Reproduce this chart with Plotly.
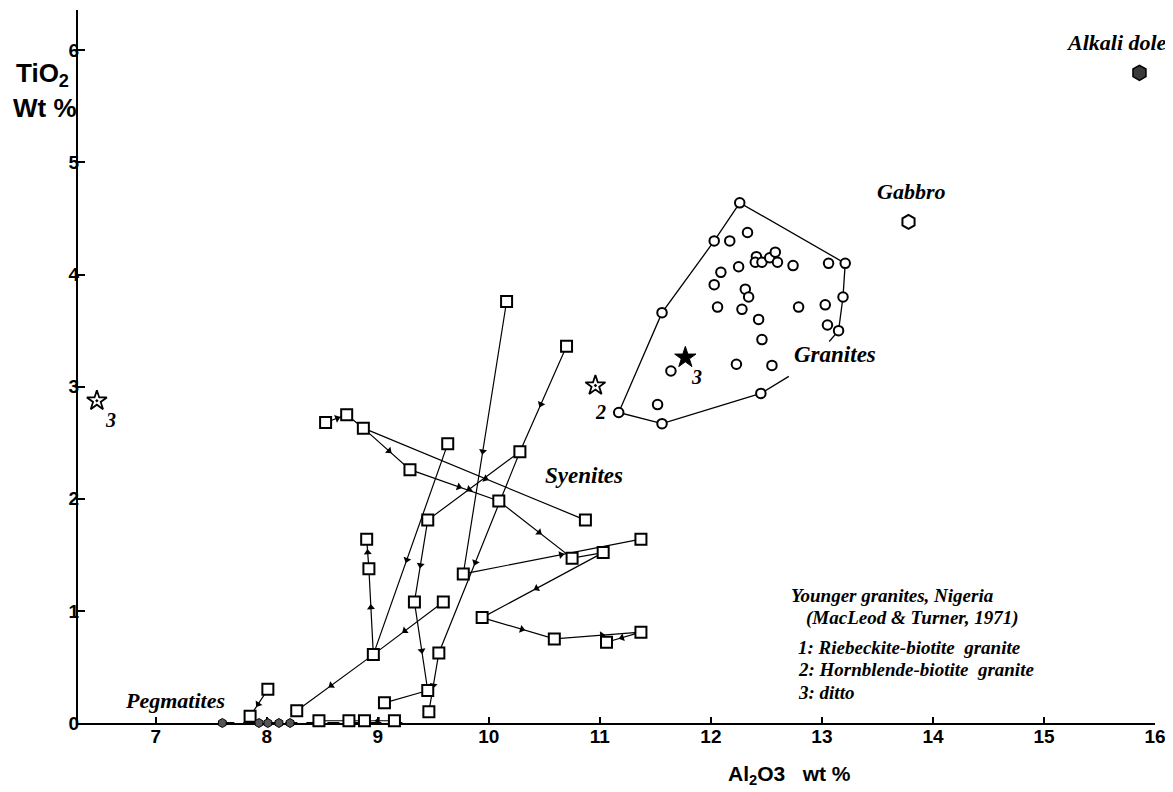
import math
import plotly.graph_objects as go

# ---------------- data (Al2O3 wt %, TiO2 wt %) ----------------
# Syenite samples (open squares)
syenite_al2o3 = [10.16, 10.70, 8.53, 8.72, 8.87, 9.63, 10.28, 9.29, 10.09, 10.87,
                 9.45, 8.90, 11.37, 11.03, 10.75, 8.92, 9.77, 9.33, 9.59, 9.94,
                 10.59, 11.37, 11.06, 8.96, 9.55, 8.01, 7.85, 8.27, 9.06, 9.45,
                 9.46, 8.47, 8.74, 8.88, 9.15]
syenite_tio2 = [3.76, 3.36, 2.68, 2.75, 2.63, 2.49, 2.42, 2.26, 1.98, 1.81,
                1.81, 1.64, 1.64, 1.52, 1.47, 1.375, 1.33, 1.08, 1.08, 0.94,
                0.75, 0.81, 0.72, 0.61, 0.625, 0.30, 0.06, 0.11, 0.18, 0.29,
                0.10, 0.02, 0.02, 0.02, 0.02]
# Evolution paths of syenite complexes (sample indices) and arrow flags per segment
syenite_paths = [
    ([0, 16, 12], [1, 1]),
    ([2, 3, 4, 7, 8, 14, 13, 19, 20, 21, 22], [1, 0, 1, 1, 1, 0, 1, 1, 1, 1]),
    ([4, 9], [1]),
    ([5, 23, 15, 11], [1, 1, 1]),
    ([18, 23, 27], [1, 1]),
    ([6, 10, 17, 29], [1, 1, 1]),
    ([1, 6, 24, 30], [1, 1, 1]),
    ([28, 29], [0]),
    ([25, 26], [1]),
    ([34, 33, 32, 31], [1, 0, 0]),
]

# Granites (open circles); hull vertices listed first
granite_hull_al2o3 = [13.15, 13.19, 13.21, 12.26, 12.03, 11.56, 11.17, 11.56, 12.45]
granite_hull_tio2 = [3.50, 3.80, 4.10, 4.64, 4.30, 3.66, 2.77, 2.67, 2.94]
granite_al2o3 = [12.17, 12.33, 12.41, 12.40, 12.46, 12.53, 12.58, 12.60, 12.74, 13.06,
                 12.25, 12.09, 12.03, 12.31, 12.34, 12.06, 12.28, 12.79, 13.03, 12.43,
                 13.05, 12.46, 12.23, 12.55, 11.64, 11.52]
granite_tio2 = [4.30, 4.375, 4.16, 4.11, 4.11, 4.15, 4.20, 4.11, 4.08, 4.10,
                4.07, 4.02, 3.91, 3.87, 3.80, 3.71, 3.69, 3.71, 3.73, 3.60,
                3.55, 3.42, 3.20, 3.19, 3.14, 2.84]

# Younger granites, Nigeria (stars)
ng_filled_al2o3 = [11.77]
ng_filled_tio2 = [3.26]
ng_open_al2o3 = [10.96, 6.47]
ng_open_tio2 = [3.01, 2.875]

# Pegmatites (small filled dots on the axis)
pegmatite_al2o3 = [7.60, 7.93, 8.01, 8.11, 8.21]
pegmatite_tio2 = [0.0, 0.0, 0.0, 0.0, 0.0]

gabbro_al2o3 = [13.78]
gabbro_tio2 = [4.47]
dolerite_al2o3 = [15.86]
dolerite_tio2 = [5.80]

x_ticks = [7, 8, 9, 10, 11, 12, 13, 14, 15, 16]
y_ticks = [0, 1, 2, 3, 4, 5, 6]

# ---------------- layout geometry ----------------
# page body has an 8px margin, so the figure is sized to end at the window edge
W, H = 1165, 784
M = dict(l=70, r=18, t=2, b=69)
X_RANGE = [6.3, 16.0]
Y_RANGE = [0, 6.36]
sx = (W - M["l"] - M["r"]) / (X_RANGE[1] - X_RANGE[0])
sy = (H - M["t"] - M["b"]) / (Y_RANGE[1] - Y_RANGE[0])

fig = go.Figure()

# broken (dashed) stretch of the axis under the pegmatite / low-Ti samples
dash_x = [pegmatite_al2o3[0], max(syenite_al2o3[31:]) + 0.08]
fig.add_trace(go.Scatter(x=dash_x, y=[0, 0], mode="lines",
                         line=dict(color="white", width=4),
                         hoverinfo="skip", showlegend=False, cliponaxis=False))
fig.add_trace(go.Scatter(x=dash_x, y=[0, 0], mode="lines",
                         line=dict(color="black", width=2, dash="12px,9px"),
                         hoverinfo="skip", showlegend=False, cliponaxis=False))

# syenite connecting lines
lx, ly = [], []
for idx, _ in syenite_paths:
    for i in idx:
        lx.append(syenite_al2o3[i])
        ly.append(syenite_tio2[i])
    lx.append(None)
    ly.append(None)
fig.add_trace(go.Scatter(x=lx, y=ly, mode="lines",
                         line=dict(color="black", width=1.2),
                         hoverinfo="skip", showlegend=False, cliponaxis=False))

# granite hull (open between first and last vertex where the label sits)
fig.add_trace(go.Scatter(x=granite_hull_al2o3, y=granite_hull_tio2, mode="lines",
                         line=dict(color="black", width=1.3),
                         hoverinfo="skip", showlegend=False))
h_a = (granite_hull_al2o3[0], granite_hull_tio2[0])
h_b = (granite_hull_al2o3[-1], granite_hull_tio2[-1])
stub_x = [h_a[0], h_a[0] + 0.12 * (h_b[0] - h_a[0]), None,
          h_b[0], h_b[0] + 0.36 * (h_a[0] - h_b[0])]
stub_y = [h_a[1], h_a[1] + 0.12 * (h_b[1] - h_a[1]) - 0.03, None,
          h_b[1], h_b[1] + 0.36 * (h_a[1] - h_b[1]) - 0.05]
fig.add_trace(go.Scatter(x=stub_x, y=stub_y, mode="lines",
                         line=dict(color="black", width=1.3),
                         hoverinfo="skip", showlegend=False))

# arrowheads on syenite paths (direction computed in screen space)
arx, ary, ang = [], [], []
for idx, flags in syenite_paths:
    for k, f in enumerate(flags):
        if not f:
            continue
        ax0, ay0 = syenite_al2o3[idx[k]], syenite_tio2[idx[k]]
        bx0, by0 = syenite_al2o3[idx[k + 1]], syenite_tio2[idx[k + 1]]
        arx.append(ax0 + 0.55 * (bx0 - ax0))
        ary.append(ay0 + 0.55 * (by0 - ay0))
        ang.append(math.degrees(math.atan2((bx0 - ax0) * sx, (by0 - ay0) * sy)))
fig.add_trace(go.Scatter(x=arx, y=ary, mode="markers",
                         marker=dict(symbol="triangle-up", size=7, color="black",
                                     angle=ang, line=dict(width=0)),
                         hoverinfo="skip", showlegend=False, cliponaxis=False))

# markers
fig.add_trace(go.Scatter(x=syenite_al2o3, y=syenite_tio2, mode="markers",
                         marker=dict(symbol="square", size=11, color="white",
                                     line=dict(color="black", width=2)),
                         showlegend=False, cliponaxis=False))
fig.add_trace(go.Scatter(x=granite_hull_al2o3 + granite_al2o3,
                         y=granite_hull_tio2 + granite_tio2, mode="markers",
                         marker=dict(symbol="circle", size=9.5, color="white",
                                     line=dict(color="black", width=2)),
                         showlegend=False))
fig.add_trace(go.Scatter(x=pegmatite_al2o3, y=pegmatite_tio2, mode="markers",
                         marker=dict(symbol="hexagon", size=9, color="#555",
                                     line=dict(color="black", width=1)),
                         showlegend=False, cliponaxis=False))
fig.add_trace(go.Scatter(x=gabbro_al2o3, y=gabbro_tio2, mode="markers",
                         marker=dict(symbol="hexagon", size=14, color="white",
                                     line=dict(color="black", width=2)),
                         showlegend=False))
fig.add_trace(go.Scatter(x=dolerite_al2o3, y=dolerite_tio2, mode="markers",
                         marker=dict(symbol="hexagon", size=15, color="#3a3a3a",
                                     line=dict(color="black", width=1.5)),
                         showlegend=False))
fig.add_trace(go.Scatter(x=ng_filled_al2o3, y=ng_filled_tio2, mode="markers",
                         marker=dict(symbol="star", size=16, color="black",
                                     line=dict(color="black", width=1)),
                         showlegend=False))
fig.add_trace(go.Scatter(x=ng_open_al2o3, y=ng_open_tio2, mode="markers",
                         marker=dict(symbol="star-open-dot", size=15, color="black",
                                     line=dict(color="black", width=1.8)),
                         showlegend=False))

annotations = []
serif = "Liberation Serif"
sans = "Liberation Sans"


def label(text, x, y, size=19, xanchor="center", family=serif, italic=True,
          xref="x", yref="y"):
    annotations.append(dict(text=text, x=x, y=y, xref=xref, yref=yref, showarrow=False,
                            xanchor=xanchor, yanchor="middle",
                            font=dict(family=family, size=size, color="black",
                                      weight="bold",
                                      style="italic" if italic else "normal")))


label("Syenites", 10.86, 2.21, size=23)
label("Granites", 13.12, 3.29, size=23)
label("Gabbro", 13.80, 4.74, size=22)
label("Pegmatites", 7.17, 0.20, size=22)
label("Alkali dolerite", 15.18, 6.07, size=22, xanchor="left")
label("2", 11.01, 2.77, size=20)
label("3", 11.87, 3.09, size=20)
label("3", 6.59, 2.70, size=20)
label("Younger granites, Nigeria", 12.70, 1.135, size=19, xanchor="left")
label("(MacLeod & Turner, 1971)", 12.84, 0.94, size=19, xanchor="left")
label("1: Riebeckite-biotite  granite", 12.77, 0.675, size=19, xanchor="left")
label("2: Hornblende-biotite  granite", 12.77, 0.475, size=19, xanchor="left")
label("3: ditto", 12.77, 0.275, size=19, xanchor="left")

# axis titles
label("Al<sub>2</sub>O3\u00a0\u00a0 wt %", 0.661, -0.073, size=21, family=sans,
      italic=False, xref="paper", yref="paper")
label("TiO<sub>2</sub>", -0.033, 0.909, size=26, family=sans, italic=False,
      xref="paper", yref="paper")
label("Wt %", -0.031, 0.862, size=26, family=sans, italic=False,
      xref="paper", yref="paper")

fig.update_layout(
    width=W, height=H,
    margin=M,
    paper_bgcolor="white", plot_bgcolor="white",
    annotations=annotations,
    showlegend=False,
    xaxis=dict(range=X_RANGE, showline=True, linecolor="black", linewidth=2,
               ticks="inside", ticklen=6, tickwidth=1.5, tickcolor="black",
               tickvals=x_ticks, ticktext=[str(v) for v in x_ticks],
               tickfont=dict(family=sans, size=19, color="black", weight="bold"),
               ticklabelstandoff=-5, layer="below traces",
               showgrid=False, zeroline=False),
    yaxis=dict(range=Y_RANGE, showline=True, linecolor="black", linewidth=2,
               ticks="inside", ticklen=7, tickwidth=1.5, tickcolor="black",
               tickvals=y_ticks, ticktext=[str(v) for v in y_ticks],
               tickfont=dict(family=sans, size=19, color="black", weight="bold"),
               ticklabelstandoff=-7, layer="below traces",
               showgrid=False, zeroline=False),
)

fig.write_html("out.html")
